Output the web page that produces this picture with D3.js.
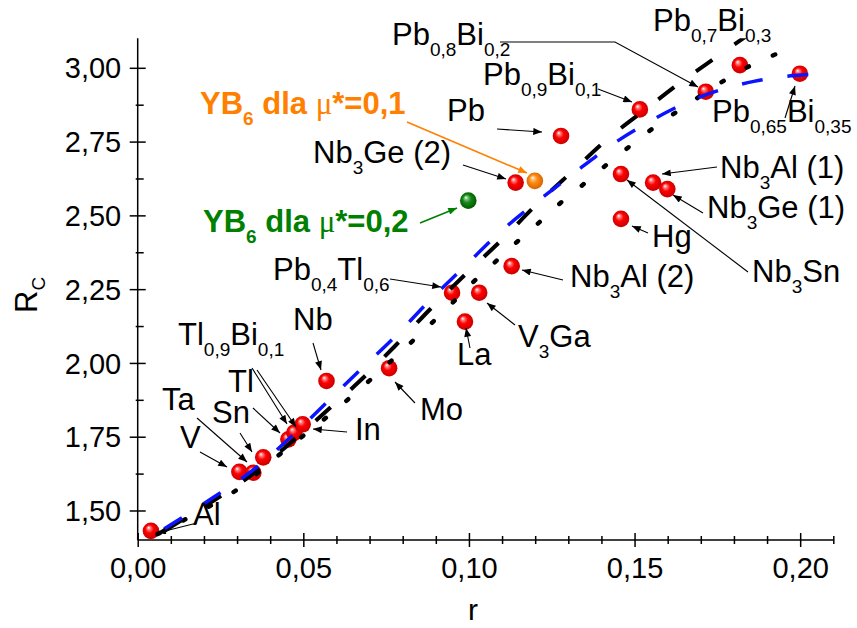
<!DOCTYPE html>
<html><head><meta charset="utf-8">
<script src="https://cdn.jsdelivr.net/npm/d3@7"></script>
<style>
body{margin:0;background:#fff}
svg{display:block}
text{font-family:"Liberation Sans",Arial,sans-serif;white-space:pre}
</style>
</head><body>
<svg id="chart" width="857" height="628"></svg>
<script>
// ---------- data ----------
const materials = ["Al","V","Ta","Sn","Tl0,9Bi0,1","Tl","In","Nb","Mo","La","Pb0,4Tl0,6","V3Ga","Nb3Al (2)","Hg","Nb3Sn","Nb3Al (1)","Nb3Ge (1)","Nb3Ge (2)","Pb","Pb0,9Bi0,1","Pb0,8Bi0,2","Pb0,7Bi0,3","Pb0,65Bi0,35"];
const rValues  = [0.0040,0.0307,0.0349,0.0379,0.0455,0.0473,0.0498,0.0570,0.0759,0.0988,0.0949,0.1031,0.1129,0.1459,0.1459,0.1556,0.1599,0.1141,0.1278,0.1516,0.1715,0.1818,0.1999];
const rcValues = [1.431,1.631,1.628,1.680,1.741,1.764,1.792,1.939,1.982,2.140,2.238,2.238,2.328,2.488,2.640,2.611,2.589,2.611,2.769,2.859,2.919,3.009,2.980];

const yb6Series = ["μ*=0,1","μ*=0,2"];
const yb6R  = [0.1199,0.0998];
const yb6Rc = [2.617,2.550];

// theoretical curves
const blueR  = [0.008,0.0113,0.0229,0.0339,0.0451,0.0555,0.0666,0.0777,0.0882,0.0992,0.1098,0.1210,0.1314,0.1426,0.1535,0.1641,0.1753,0.1860,0.1982,0.2052,0.2100];
const blueRc = [1.438,1.461,1.545,1.629,1.737,1.849,1.970,2.089,2.212,2.333,2.447,2.550,2.640,2.735,2.811,2.874,2.923,2.954,2.974,2.978,2.978];

const dashR  = [0.008,0.0115,0.0233,0.0344,0.0452,0.0560,0.0668,0.0774,0.0882,0.0993,0.1099,0.1206,0.1317,0.1423,0.1533,0.1644,0.1748,0.1860];
const dashRc = [1.430,1.455,1.536,1.621,1.720,1.827,1.936,2.054,2.181,2.304,2.417,2.539,2.654,2.763,2.859,2.955,3.037,3.125];

const dotR  = [0.006,0.0168,0.0299,0.0420,0.0621,0.0822,0.0948,0.1013,0.1078,0.1144,0.1209,0.1270,0.1340,0.1405,0.1471,0.1534,0.1597,0.1662,0.1793,0.1858,0.1924,0.1989];
const dotRc = [1.420,1.485,1.570,1.682,1.863,2.066,2.201,2.274,2.341,2.409,2.473,2.536,2.600,2.662,2.721,2.777,2.828,2.877,2.972,3.012,3.045,3.079];

const xMajorTicks = [0,0.05,0.10,0.15,0.20];
const yMajorTicks = [1.50,1.75,2.00,2.25,2.50,2.75,3.00];

// ---------- layout ----------
const plot = {left:137.7, right:833.3, top:38.3, bottom:540};
const x = d3.scaleLinear().domain([0,0.21]).range([plot.left, plot.right]);
const y = d3.scaleLinear().domain([1.40,3.10]).range([plot.bottom, plot.top]);
const fmt = v => d3.format(".2f")(v).replace(".", ",");

const svg = d3.select("#chart");
const defs = svg.append("defs");

function sphereGrad(id, light, mid, dark){
  const g = defs.append("radialGradient").attr("id",id)
    .attr("cx","50%").attr("cy","50%").attr("r","55%").attr("fx","35%").attr("fy","30%");
  g.append("stop").attr("offset","0%").attr("stop-color","#ffffff");
  g.append("stop").attr("offset","18%").attr("stop-color",light);
  g.append("stop").attr("offset","45%").attr("stop-color",mid);
  g.append("stop").attr("offset","100%").attr("stop-color",dark);
}
sphereGrad("gRed","#ff8080","#ff0000","#c00000");
sphereGrad("gOrange","#ffc080","#ff8a10","#d06000");
sphereGrad("gGreen","#80c080","#138a13","#005000");

function marker(id, color){
  defs.append("marker").attr("id",id).attr("viewBox","0 0 10 8")
    .attr("refX",10).attr("refY",4).attr("markerWidth",10).attr("markerHeight",7)
    .attr("markerUnits","userSpaceOnUse").attr("orient","auto")
    .append("path").attr("d","M0,0 L10,4 L0,8 Z").attr("fill",color);
}
marker("aBlack","#000");
marker("aOrange","#ff8000");
marker("aGreen","#008000");

defs.append("clipPath").attr("id","clip").append("rect")
  .attr("x",plot.left).attr("y",plot.top)
  .attr("width",plot.right-plot.left+6).attr("height",plot.bottom-plot.top);

// ---------- axes ----------
const xMinor = d3.range(0,0.2101,0.01).filter(v => !xMajorTicks.some(t => Math.abs(t-v)<1e-6));
const yMinor = d3.range(1.375,3.1,0.125).filter(v => v>1.4 && !yMajorTicks.some(t => Math.abs(t-v)<1e-6));

const gx = svg.append("g").attr("transform",`translate(0,${plot.bottom})`)
  .call(d3.axisBottom(x).tickValues(xMajorTicks).tickFormat(fmt).tickSizeOuter(0));
gx.selectAll(".tick line").attr("y1",-7).attr("y2",7);
gx.selectAll(".tick text").attr("y",38).attr("dy",null).attr("font-size",29).attr("font-family","Liberation Sans, Arial").attr("fill","#000");
const gxm = svg.append("g").attr("transform",`translate(0,${plot.bottom})`)
  .call(d3.axisBottom(x).tickValues(xMinor).tickFormat("").tickSizeOuter(0));
gxm.select(".domain").remove();
gxm.selectAll(".tick line").attr("y1",-4).attr("y2",4);

const gy = svg.append("g").attr("transform",`translate(${plot.left},0)`)
  .call(d3.axisLeft(y).tickValues(yMajorTicks).tickFormat(fmt).tickSizeOuter(0));
gy.selectAll(".tick line").attr("x1",8).attr("x2",-8);
gy.selectAll(".tick text").attr("x",-16.5).attr("dy","0.35em").attr("font-size",29).attr("font-family","Liberation Sans, Arial").attr("fill","#000");
const gym = svg.append("g").attr("transform",`translate(${plot.left},0)`)
  .call(d3.axisLeft(y).tickValues(yMinor).tickFormat("").tickSizeOuter(0));
gym.select(".domain").remove();
gym.selectAll(".tick line").attr("x1",6).attr("x2",-2);

svg.selectAll(".domain, .tick line").attr("stroke","#000").attr("stroke-width",1.5);
gx.select(".domain").attr("d",`M${plot.left},0H${plot.right}`);
gy.select(".domain").attr("d",`M0,${plot.bottom}V${plot.top}`);

svg.append("text").attr("x",473).attr("y",620).attr("text-anchor","middle").attr("font-size",30).text("r");
const yt = svg.append("text").attr("transform","translate(37,313) rotate(-90)").attr("font-size",31);
yt.append("tspan").text("R");
yt.append("tspan").attr("font-size",19).attr("dy",8).text("C");

// ---------- points ----------
const pts = svg.append("g");
pts.selectAll("circle.m").data(materials).join("circle").attr("class","m")
  .attr("cx",(d,i)=>x(rValues[i])).attr("cy",(d,i)=>y(rcValues[i])).attr("r",8.3)
  .attr("fill","url(#gRed)");
pts.selectAll("circle.y").data(yb6Series).join("circle").attr("class","y")
  .attr("cx",(d,i)=>x(yb6R[i])).attr("cy",(d,i)=>y(yb6Rc[i])).attr("r",8.3)
  .attr("fill",(d,i)=> i===0 ? "url(#gOrange)" : "url(#gGreen)");

// ---------- curves ----------
const line = d3.line().x(d=>x(d[0])).y(d=>y(d[1])).curve(d3.curveMonotoneX);
const cg = svg.append("g").attr("clip-path","url(#clip)").attr("fill","none");
cg.append("path").datum(dotR.map((v,i)=>[v,dotRc[i]])).attr("d",line)
  .attr("stroke","#000").attr("stroke-width",4.5).attr("stroke-linecap","round").attr("stroke-dasharray","2.5,26.5");
cg.append("path").datum(dashR.map((v,i)=>[v,dashRc[i]])).attr("d",line)
  .attr("stroke","#000").attr("stroke-width",4).attr("stroke-dasharray","20,27");
cg.append("path").datum(blueR.map((v,i)=>[v,blueRc[i]])).attr("d",line)
  .attr("stroke","#0a14ff").attr("stroke-width",3.5).attr("stroke-dasharray","21,25");

// ---------- annotations ----------
const annotations = [
  {p:[["Pb",0],["0,8",1],["Bi",0],["0,2",1]], x:392, y:45, a:[[500,42],[615,42],[698,87]]},
  {p:[["Pb",0],["0,7",1],["Bi",0],["0,3",1]], x:653, y:31},
  {p:[["Pb",0],["0,9",1],["Bi",0],["0,1",1]], x:483, y:85, a:[[598,89],[632,102]]},
  {p:[["Pb",0]], x:447, y:121, a:[[497,129],[542,132]]},
  {p:[["YB",0],["6",1],[" dla ",0],["μ",2],["*=0,1",0]], x:200, y:114, c:"#ff8000", b:1, a:[[407,122],[527,173]], m:"aOrange"},
  {p:[["Nb",0],["3",1],["Ge (2)",0]], x:313, y:163, a:[[463,165],[506,179]]},
  {p:[["YB",0],["6",1],[" dla ",0],["μ",2],["*=0,2",0]], x:203, y:232, c:"#008000", b:1, a:[[420,223],[457,208]], m:"aGreen"},
  {p:[["Pb",0],["0,4",1],["Tl",0],["0,6",1]], x:273, y:280, a:[[390,279],[441,287]]},
  {p:[["Nb",0]], x:293, y:330, a:[[313,343],[321,370]]},
  {p:[["Tl",0],["0,9",1],["Bi",0],["0,1",1]], x:178, y:345, a:[[252,368],[287,424]]},
  {p:[["Tl",0]], x:228, y:392, a:[[257,370],[296,427]]},
  {p:[["Ta",0]], x:162, y:410, a:[[197,418],[247,462]]},
  {p:[["Sn",0]], x:212, y:423, a:[[240,433],[252,452]], a2:[[253,408],[280,433]]},
  {p:[["V",0]], x:180, y:448, a:[[200,452],[227,467]]},
  {p:[["In",0]], x:355, y:440, a:[[347,432],[313,429]]},
  {p:[["Mo",0]], x:420, y:420, a:[[415,403],[395,382]]},
  {p:[["Al",0]], x:193, y:525, a:[[197,523],[157,533]]},
  {p:[["La",0]], x:457, y:365, a:[[470,348],[466,328]]},
  {p:[["V",0],["3",1],["Ga",0]], x:518, y:347, a:[[515,325],[487,303]]},
  {p:[["Nb",0],["3",1],["Al (2)",0]], x:570, y:287, a:[[563,280],[522,270]]},
  {p:[["Hg",0]], x:652, y:247, a:[[648,233],[632,226]]},
  {p:[["Nb",0],["3",1],["Sn",0]], x:752, y:282, a:[[748,272],[627,180]]},
  {p:[["Nb",0],["3",1],["Ge (1)",0]], x:707, y:218, a:[[703,213],[673,195]]},
  {p:[["Nb",0],["3",1],["Al (1)",0]], x:720, y:178, a:[[717,167],[662,174]]},
  {p:[["Pb",0],["0,65",1],["Bi",0],["0,35",1]], x:712, y:122, a:[[785,118],[795,86]]}
];

const ag = svg.append("g");
annotations.forEach(an => {
  const col = an.c || "#000";
  [an.a, an.a2].forEach(a => {
    if (!a) return;
    ag.append("path").attr("d", d3.line()(a)).attr("fill","none")
      .attr("stroke",col).attr("stroke-width", an.c ? 1.6 : 1.1)
      .attr("marker-end",`url(#${an.m || "aBlack"})`);
  });
  const t = ag.append("text").attr("x",an.x).attr("y",an.y).attr("font-size",31)
    .attr("fill",col).attr("font-weight", an.b ? "bold" : "normal");
  let sub = false;
  an.p.forEach(([s,k]) => {
    const ts = t.append("tspan").text(s);
    if (k===1){ ts.attr("font-size",19); if(!sub){ts.attr("dy",11); sub=true;} }
    else { if(sub){ts.attr("dy",-11); sub=false;} }
    if (k===2){ ts.attr("font-weight","normal").attr("font-family","Liberation Serif, serif"); }
  });
});
</script>
</body></html>
